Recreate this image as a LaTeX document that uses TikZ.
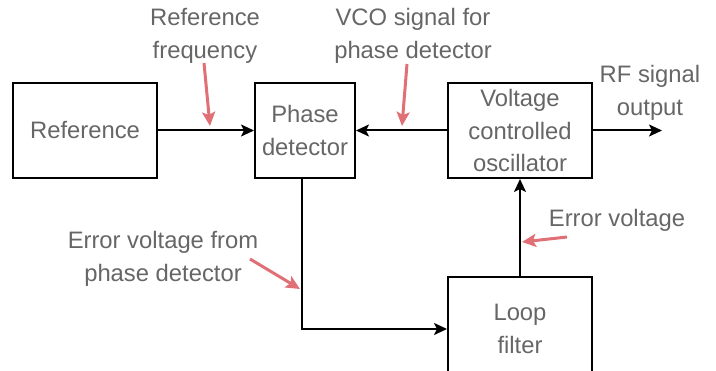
\documentclass[tikz,border=0pt]{standalone}
\usepackage{fontspec}
\setmainfont{Liberation Sans}
\usetikzlibrary{arrows.meta}
\definecolor{txtgray}{RGB}{102,102,102}
\definecolor{pinkred}{RGB}{224,112,118}
\begin{document}
\begin{tikzpicture}[x=1pt,y=-1pt,
  blockbox/.style={draw=black,line width=2pt,minimum width=#1,minimum height=95pt,inner sep=0pt,
    text=txtgray,align=center,font=\fontsize{23.8}{32.5}\selectfont},
  lbl/.style={text=txtgray,align=center,inner sep=0pt,font=\fontsize{23.8}{32.5}\selectfont},
  conn/.style={draw=black,line width=2pt,-{Stealth[length=13pt,width=12pt,inset=3pt]}},
  pointer/.style={draw=pinkred,line width=3pt,-{Stealth[length=14pt,width=13pt,inset=3pt]}}]
\useasboundingbox (0,0) rectangle (716,371);
\begin{scope}
\clip (0,0) rectangle (716,371);
\node[blockbox=144pt] (ref) at (85,130.5) {Reference};
\node[blockbox=100pt] (pd) at (305,130.5) {Phase\\detector};
\node[blockbox=144pt] (vco) at (520,130.5) {Voltage\\controlled\\oscillator};
\node[blockbox=144pt,minimum height=104pt] (lf) at (520,329) {Loop\\filter};
\end{scope}
\coordinate (rfout) at (662,130.5);
\draw[conn] (ref.east) -- (pd.west);
\draw[conn] (vco.west) -- (pd.east);
\draw[conn] (vco.east) -- (rfout);
\draw[conn] ([xshift=-3pt]pd.south) |- (lf.west);
\draw[conn] (lf.north) -- (vco.south);
% labels
\node[lbl] (lrf) at (205,36) {Reference\\frequency};
\node[lbl] (lvco) at (413,36) {VCO signal for\\phase detector};
\node[lbl] (lrfo) at (650,93) {RF signal\\output};
\node[lbl] (lev) at (163,259) {Error voltage from\\phase detector};
\node[lbl] (lerr) at (617,220) {Error voltage};
% pointer arrows
\coordinate (p1s) at (204,63); \coordinate (p1e) at (210,126);
\coordinate (p2s) at (407,64); \coordinate (p2e) at (402,126);
\coordinate (p3s) at (250,259); \coordinate (p3e) at (300,289);
\coordinate (p4s) at (567,237); \coordinate (p4e) at (522,242);
\draw[pointer] (p1s) -- (p1e);
\draw[pointer] (p2s) -- (p2e);
\draw[pointer] (p3s) -- (p3e);
\draw[pointer] (p4s) -- (p4e);
\end{tikzpicture}
\end{document}
